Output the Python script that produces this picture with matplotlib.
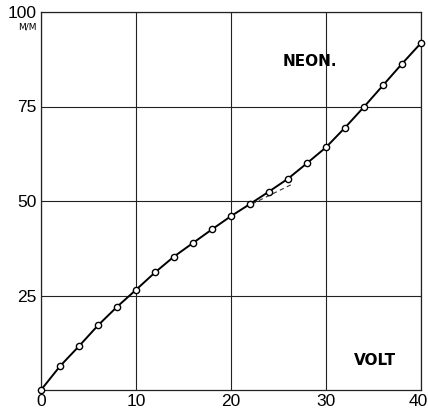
import matplotlib
matplotlib.use("Agg")
import matplotlib.pyplot as plt
import matplotlib.transforms as mtransforms

volt = [0, 2, 4, 6, 8, 10, 12, 14, 16, 18, 20, 22, 24, 26, 28, 30, 32, 34, 36, 38, 40]
mm = [0, 6.3, 11.6, 17.1, 22.0, 26.5, 31.1, 35.3, 38.9, 42.5, 46.0, 49.2, 52.5,
      55.9, 60.0, 64.2, 69.4, 74.9, 80.6, 86.3, 91.8]
dash_x = [22.2, 26.4]
dash_y = [49.2, 54.4]
xticks = [0, 10, 20, 30, 40]
yticks = [25, 50, 75, 100]

fig = plt.figure(figsize=(4.28, 4.13), dpi=100)
ax = fig.add_axes([41/428, 23/413, 380/428, 378/413])
ax.set_xlim(0, 40)
ax.set_ylim(0, 100)
ax.set_xticks(xticks)
ax.set_yticks(yticks)
ax.set_xticklabels([str(t) for t in xticks], fontsize=12.5, fontfamily="Liberation Sans")
ax.set_yticklabels([str(t) for t in yticks], fontsize=12.5, fontfamily="Liberation Sans")
ax.tick_params(length=0, pad=3)
ax.grid(True, color="#222222", linewidth=0.8)
for s in ax.spines.values():
    s.set_color("#222222")
    s.set_linewidth(0.9)

# keep the last x tick label inside the figure
last = ax.get_xticklabels()[-1]
last.set_transform(last.get_transform() + mtransforms.ScaledTranslation(-3/100, 0, fig.dpi_scale_trans))

ax.plot(dash_x, dash_y, color="#333333", linewidth=0.8, linestyle=(0, (4, 3)))
ax.plot(volt, mm, color="black", linewidth=1.4, marker="o", markersize=4.5,
        markerfacecolor="white", markeredgecolor="black", markeredgewidth=1.0, clip_on=False, zorder=5)

ax.text(28.3, 86.8, "NEON.", fontsize=11, fontweight="bold", fontfamily="DejaVu Sans",
        ha="center", va="center")
ax.text(35.2, 7.9, "VOLT", fontsize=11, fontweight="bold", fontfamily="DejaVu Sans",
        ha="center", va="center")
fig.text(27/428, 1 - 27/413, "M/M", fontsize=6.5, ha="center", va="center", fontfamily="DejaVu Sans")

fig.savefig("out.png", dpi=100)
